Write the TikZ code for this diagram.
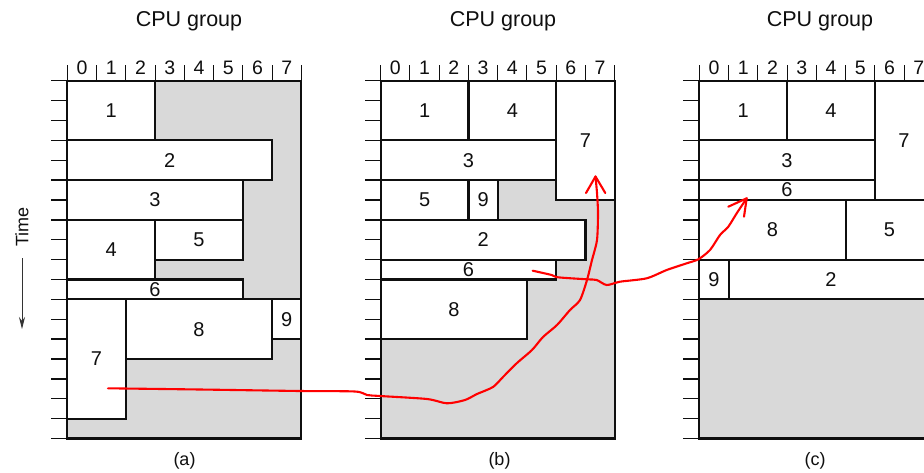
\documentclass[tikz,border=0pt]{standalone}
\usepackage{fontspec}
\setmainfont{Liberation Sans}
\usetikzlibrary{arrows.meta}
\definecolor{shade}{RGB}{217,217,217}
\definecolor{ink}{RGB}{15,15,15}
\definecolor{pen}{RGB}{255,0,0}
\tikzset{
  frame/.style={draw=ink, fill=shade, line width=2.1pt},
  frameline/.style={draw=ink, line width=2.1pt},
  jobfill/.style={fill=white},
  jobline/.style={draw=ink, line width=2.1pt},
  num/.style={font=\fontsize{20}{20}\selectfont, text=ink, inner sep=0pt},
  axnum/.style={font=\fontsize{19.5}{19.5}\selectfont, text=ink, inner sep=0pt},
  toptick/.style={draw=ink, line width=1pt},
  lefttick/.style={draw=ink, line width=1.4pt},
  title/.style={font=\fontsize{21.5}{21.5}\selectfont, text=ink, inner sep=0pt},
  sub/.style={font=\fontsize{18}{18}\selectfont, text=ink, inner sep=0pt},
  redpen/.style={draw=pen, line width=2.1pt, line cap=round, line join=round},
}
% first pass: white fills
\newcommand\jobfillpass[6]{\fill[jobfill] (#2,#3) rectangle (#4,#5);}
% second pass: borders and labels
\newcommand\jobdrawpass[6]{%
  \draw[jobline] (#2,#3) rectangle (#4,#5);
  \node[num] (#1) at ({(#2+#4)/2},{(#3+#5)/2}) {#6};}
\newcommand\panelgrid[1]{%
  \draw[frame] (0,0) rectangle (8,18);
  \foreach \i in {0,...,8} \draw[toptick] (\i,0) -- ++(0pt,16pt);
  \foreach \i in {0,...,7} \node[axnum] (ax#1\i) at (\i+0.5,0) [yshift=13pt] {\i};
  \foreach \j in {0,...,18} \draw[lefttick] (0,\j) -- ++(-16pt,0pt);}
\newcommand\jobsA{%
  \jb{a1}{0}{0}{3}{3}{1}
  \jb{a2}{0}{3}{7}{5}{2}
  \jb{a3}{0}{5}{6}{7}{3}
  \jb{a4}{0}{7}{3}{10}{4}
  \jb{a5}{3}{7}{6}{9}{5}
  \jb{a6}{0}{10}{6}{11}{6}
  \jb{a7}{0}{11}{2}{17}{7}
  \jb{a8}{2}{11}{7}{14}{8}
  \jb{a9}{7}{11}{8}{13}{9}}
\newcommand\jobsB{%
  \jb{b1}{0}{0}{3}{3}{1}
  \jb{b4}{3}{0}{6}{3}{4}
  \jb{b7}{6}{0}{8}{6}{7}
  \jb{b3}{0}{3}{6}{5}{3}
  \jb{b5}{0}{5}{3}{7}{5}
  \jb{b9}{3}{5}{4}{7}{9}
  \jb{b2}{0}{7}{7}{9}{2}
  \jb{b6}{0}{9}{6}{10}{6}
  \jb{b8}{0}{10}{5}{13}{8}}
\newcommand\jobsC{%
  \jb{c1}{0}{0}{3}{3}{1}
  \jb{c4}{3}{0}{6}{3}{4}
  \jb{c7}{6}{0}{8}{6}{7}
  \jb{c3}{0}{3}{6}{5}{3}
  \jb{c6}{0}{5}{6}{6}{6}
  \jb{c8}{0}{6}{5}{9}{8}
  \jb{c5}{5}{6}{8}{9}{5}
  \jb{c9}{0}{9}{1}{11}{9}
  \jb{c2}{1}{9}{8}{11}{2}}
\newcommand\panel[2]{%
  \panelgrid{#1}
  \let\jb\jobfillpass #2
  \let\jb\jobdrawpass #2
  \draw[frameline] (0,0) rectangle (8,18);}
\begin{document}
\begin{tikzpicture}[x=1pt, y=-1pt]
\useasboundingbox (0,0) rectangle (924,472);
\fill[white] (0,0) rectangle (924,472);

% titles and sublabels
\node[title] (ta) at (189,21) {CPU group};
\node[title] (tb) at (503,21) {CPU group};
\node[title] (tc) at (820,21) {CPU group};
\node[sub] (la) at (184.5,461) {(a)};
\node[sub] (lb) at (499.5,461) {(b)};
\node[sub] (lc) at (815,461) {(c)};

% time axis
\node[sub, rotate=90] (time) at (22,227) {Time};
\coordinate (ts) at (22,258);
\coordinate (te) at (22,329);
\draw[draw=ink!85, line width=0.9pt, -{Stealth[length=12pt,width=6pt]}] (ts) -- (te);

% panels
\begin{scope}[shift={(67.3pt,-80.7pt)}, x=29.25pt, y=-19.88pt]
  \panel{a}{\jobsA}
\end{scope}
\begin{scope}[shift={(380.7pt,-80.7pt)}, x=29.25pt, y=-19.88pt]
  \panel{b}{\jobsB}
\end{scope}
\begin{scope}[shift={(699.3pt,-80.7pt)}, x=29.25pt, y=-19.88pt]
  \panel{c}{\jobsC}
\end{scope}

% red hand-drawn arrows
\coordinate (r1s) at (108,388.3);
\coordinate (r1e) at (595.5,176.5);
\draw[redpen] plot[smooth, tension=0.45] coordinates {(r1s) (200,389.5) (300,391) (355,391.5) (367,395) (380,396) (427,399) (447,403.3) (465,400) (477,394) (493,387) (503,377) (517,363) (532,350) (543,337) (557,325) (570,310) (580,300) (587,280) (592,260) (597,240) (598,213) (597,193) (r1e)};
\draw[redpen] (586,193) -- (r1e) -- (605.3,193);

\coordinate (r2s) at (532.7,270.7);
\coordinate (r2e) at (746.7,198.3);
\draw[redpen] plot[smooth, tension=0.45] coordinates {(r2s) (551.7,275) (558,277.3) (586.7,279.3) (596.7,280) (606.7,285) (620,281.7) (646.7,278.3) (666.7,270) (686.7,263.3) (698.3,259.3) (710,250) (720,235) (728.3,226.7) (736.7,213.3) (r2e)};
\draw[redpen] (728.3,206.7) -- (r2e) -- (744,216.7);
\end{tikzpicture}
\end{document}
